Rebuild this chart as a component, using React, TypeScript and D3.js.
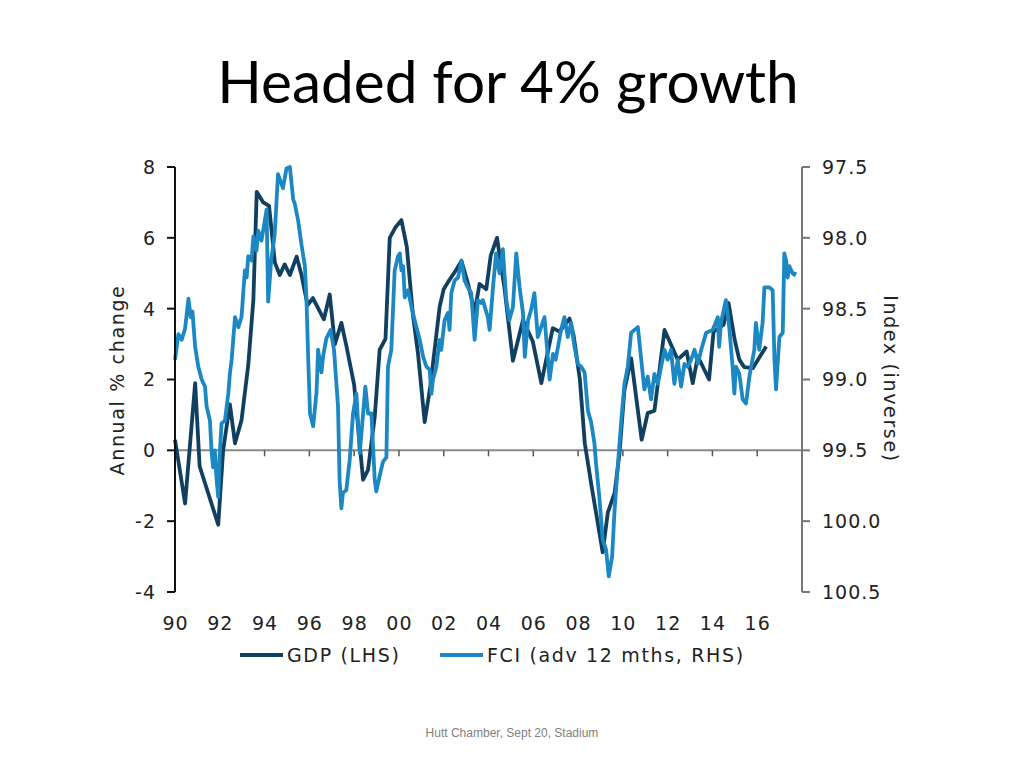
import React from "react";
import * as d3 from "d3";

const title = "Headed for 4% growth";
const footer = "Hutt Chamber, Sept 20, Stadium";
const leftTicks = [-4, -2, 0, 2, 4, 6, 8];
const rightTicks = [97.5, 98.0, 98.5, 99.0, 99.5, 100.0, 100.5];
const xTickYears = [1990, 1992, 1994, 1996, 1998, 2000, 2002, 2004, 2006, 2008, 2010, 2012, 2014, 2016];
const seriesNames = ["GDP (LHS)", "FCI (adv 12 mths, RHS)"];

// GDP annual % change (decimal year, value)
const gdp: [number, number][] = [
  [1990.0, 0.3], [1990.45, -1.5], [1990.9, 1.9], [1991.1, -0.45], [1991.93, -2.1],
  [1992.15, 0.0], [1992.45, 1.3], [1992.68, 0.2], [1992.97, 0.85], [1993.27, 2.4],
  [1993.5, 4.25], [1993.65, 7.3], [1993.94, 7.0], [1994.2, 6.9], [1994.46, 5.3],
  [1994.68, 4.95], [1994.9, 5.25], [1995.13, 4.95], [1995.43, 5.47], [1995.65, 4.95],
  [1995.92, 4.1], [1996.16, 4.3], [1996.4, 4.0], [1996.65, 3.7], [1996.91, 4.4],
  [1997.14, 3.0], [1997.43, 3.6], [1997.66, 2.93], [1998.0, 1.85], [1998.2, 0.5],
  [1998.4, -0.83], [1998.62, -0.55], [1998.92, 0.95], [1999.14, 2.84], [1999.4, 3.15],
  [1999.59, 6.0], [1999.85, 6.3], [2000.11, 6.5], [2000.35, 5.75], [2000.63, 3.8],
  [2000.85, 2.74], [2001.15, 0.8], [2001.4, 1.8], [2001.82, 4.06], [2002.0, 4.55],
  [2002.19, 4.75], [2002.56, 5.1], [2002.79, 5.35], [2003.08, 4.72], [2003.38, 3.9],
  [2003.6, 4.7], [2003.9, 4.55], [2004.1, 5.5], [2004.38, 6.0], [2004.72, 4.55],
  [2005.09, 2.53], [2005.54, 3.68], [2005.98, 3.07], [2006.36, 1.9], [2006.87, 3.45],
  [2007.17, 3.35], [2007.62, 3.72], [2007.8, 3.25], [2008.08, 2.0], [2008.3, 0.2],
  [2008.6, -1.0], [2009.1, -2.88], [2009.33, -1.75], [2009.63, -1.21], [2009.85, -0.08],
  [2010.07, 1.7], [2010.37, 2.6], [2010.84, 0.3], [2011.11, 1.05], [2011.41, 1.12],
  [2011.86, 3.4], [2012.45, 2.56], [2012.85, 2.79], [2013.12, 1.9], [2013.35, 2.65],
  [2013.85, 2.0], [2014.05, 3.35], [2014.5, 3.55], [2014.72, 4.16], [2015.0, 3.1],
  [2015.2, 2.56], [2015.42, 2.35], [2015.8, 2.32], [2016.17, 2.7], [2016.4, 2.93],
];

// FCI index (inverse scale), advanced 12 months (decimal year, index)
const fci: [number, number][] = [
  [1990.0, 98.86], [1990.15, 98.68], [1990.3, 98.72], [1990.45, 98.64], [1990.6, 98.43],
  [1990.7, 98.56], [1990.78, 98.52], [1990.9, 98.77], [1991.04, 98.91], [1991.19, 99.0],
  [1991.34, 99.05], [1991.41, 99.19], [1991.56, 99.29], [1991.63, 99.5], [1991.7, 99.62],
  [1991.78, 99.5], [1991.85, 99.69], [1991.93, 99.83], [1992.0, 99.52], [1992.08, 99.31],
  [1992.23, 99.29], [1992.38, 99.1], [1992.45, 98.96], [1992.53, 98.86], [1992.68, 98.56],
  [1992.83, 98.63], [1992.97, 98.56], [1993.12, 98.23], [1993.2, 98.28], [1993.27, 98.13],
  [1993.42, 98.16], [1993.5, 97.99], [1993.64, 98.09], [1993.72, 97.95], [1993.86, 98.02],
  [1994.01, 97.88], [1994.09, 97.8], [1994.16, 98.45], [1994.3, 98.15], [1994.45, 97.98],
  [1994.6, 97.55], [1994.82, 97.65], [1994.98, 97.51], [1995.13, 97.5], [1995.28, 97.73],
  [1995.35, 97.76], [1995.5, 97.88], [1995.65, 98.05], [1995.8, 98.2], [1995.87, 98.43],
  [1995.95, 98.86], [1996.03, 99.24], [1996.17, 99.33], [1996.32, 99.09], [1996.39, 98.79],
  [1996.54, 98.95], [1996.62, 98.83], [1996.76, 98.71], [1996.95, 98.65], [1997.1, 98.79],
  [1997.28, 99.19], [1997.35, 99.71], [1997.43, 99.91], [1997.5, 99.8], [1997.65, 99.78],
  [1997.8, 99.57], [1997.95, 99.24], [1998.1, 99.1], [1998.25, 99.52], [1998.4, 99.24],
  [1998.5, 99.05], [1998.62, 99.24], [1998.77, 99.24], [1998.92, 99.71], [1998.99, 99.79],
  [1999.14, 99.68], [1999.29, 99.58], [1999.44, 99.55], [1999.51, 98.91], [1999.66, 98.79],
  [1999.81, 98.23], [1999.96, 98.13], [2000.04, 98.11], [2000.11, 98.23], [2000.19, 98.2],
  [2000.26, 98.42], [2000.41, 98.37], [2000.56, 98.49], [2000.7, 98.58], [2000.78, 98.63],
  [2000.93, 98.72], [2001.08, 98.84], [2001.23, 98.91], [2001.37, 98.93], [2001.45, 99.1],
  [2001.52, 99.0], [2001.67, 98.91], [2001.82, 98.72], [2001.89, 98.79], [2002.04, 98.58],
  [2002.19, 98.53], [2002.26, 98.65], [2002.34, 98.39], [2002.49, 98.3], [2002.64, 98.28],
  [2002.79, 98.16], [2002.93, 98.3], [2003.08, 98.35], [2003.23, 98.39], [2003.38, 98.72],
  [2003.53, 98.44], [2003.68, 98.46], [2003.75, 98.44], [2003.97, 98.56], [2004.05, 98.65],
  [2004.2, 98.35], [2004.34, 98.11], [2004.49, 98.25], [2004.64, 98.08], [2004.79, 98.43],
  [2004.93, 98.58], [2005.09, 98.49], [2005.24, 98.11], [2005.39, 98.35], [2005.54, 98.53],
  [2005.62, 98.84], [2005.77, 98.58], [2005.9, 98.51], [2006.05, 98.39], [2006.2, 98.7],
  [2006.35, 98.63], [2006.5, 98.56], [2006.73, 99.0], [2006.88, 98.82], [2007.0, 98.86],
  [2007.24, 98.65], [2007.39, 98.56], [2007.54, 98.7], [2007.69, 98.6], [2007.84, 98.77],
  [2007.99, 98.89], [2008.14, 98.91], [2008.29, 98.95], [2008.44, 99.22], [2008.58, 99.3],
  [2008.73, 99.45], [2008.8, 99.59], [2008.95, 99.83], [2009.1, 100.13], [2009.25, 100.2],
  [2009.37, 100.39], [2009.52, 100.25], [2009.63, 99.92], [2009.77, 99.62], [2009.92, 99.31],
  [2010.07, 99.03], [2010.22, 98.91], [2010.37, 98.67], [2010.52, 98.65], [2010.67, 98.63],
  [2010.82, 98.86], [2010.96, 99.07], [2011.11, 98.98], [2011.26, 99.14], [2011.41, 98.96],
  [2011.56, 99.03], [2011.71, 98.91], [2011.86, 98.79], [2012.0, 98.86], [2012.15, 98.79],
  [2012.3, 99.03], [2012.45, 98.86], [2012.6, 99.05], [2012.75, 98.89], [2012.9, 98.91],
  [2013.05, 98.86], [2013.2, 98.79], [2013.35, 98.89], [2013.5, 98.79], [2013.72, 98.67],
  [2014.01, 98.65], [2014.24, 98.56], [2014.3, 98.77], [2014.38, 98.6], [2014.6, 98.44],
  [2014.75, 98.63], [2014.9, 98.91], [2014.98, 99.1], [2015.05, 98.91], [2015.2, 98.96],
  [2015.35, 99.14], [2015.5, 99.17], [2015.65, 98.98], [2015.87, 98.79], [2015.94, 98.6],
  [2016.09, 98.79], [2016.24, 98.6], [2016.32, 98.35], [2016.54, 98.35], [2016.69, 98.37],
  [2016.77, 98.86], [2016.84, 99.07], [2016.99, 98.7], [2017.14, 98.67], [2017.21, 98.11],
  [2017.29, 98.16], [2017.36, 98.28], [2017.43, 98.2], [2017.58, 98.25], [2017.65, 98.26],
  [2017.7, 98.24],
];

const GDP_COLOR = "#103f5f";
const FCI_COLOR = "#1b88c4";
const FONT = "DejaVu Sans, Verdana, sans-serif";
const TEXT_LS = 1.65;
const NUM_LS = 1.0;

export default function App() {
  const left = 175, right = 802, top = 167, bottom = 592;
  const x = d3.scaleLinear().domain([1990, 2018]).range([left, right]);
  const yL = d3.scaleLinear().domain([-4, 8]).range([bottom, top]);
  const yR = d3.scaleLinear().domain([100.5, 97.5]).range([bottom, top]);

  const gdpLine = d3.line<[number, number]>().x(d => x(d[0])).y(d => yL(d[1]));
  const fciLine = d3.line<[number, number]>().x(d => x(d[0])).y(d => yR(d[1]));

  const y0 = yL(0);

  return (
    <div style={{ position: "absolute", left: 0, top: 0 }}>
      <svg width={1024} height={768} style={{ display: "block", background: "#fff" }}>
        <text x={508} y={103} textAnchor="middle" fontFamily="Lato, Carlito, sans-serif" fontSize={58.5} fill="#000">
          {title}
        </text>

        {/* zero line */}
        <line x1={left} x2={right} y1={y0} y2={y0} stroke="#8a8a8a" strokeWidth={2} />
        {xTickYears.map(t => (
          <line key={t} x1={x(t)} x2={x(t)} y1={y0} y2={y0 + 6} stroke="#555" strokeWidth={1.5} />
        ))}

        {/* lines */}
        <path d={gdpLine(gdp) || ""} fill="none" stroke={GDP_COLOR} strokeWidth={3.8} strokeLinejoin="round" />
        <path d={fciLine(fci) || ""} fill="none" stroke={FCI_COLOR} strokeWidth={3.8} strokeLinejoin="round" />

        {/* left axis */}
        <line x1={left} x2={left} y1={top} y2={bottom} stroke="#111" strokeWidth={2} />
        {leftTicks.map(t => (
          <g key={t}>
            <line x1={left - 8} x2={left} y1={yL(t)} y2={yL(t)} stroke="#111" strokeWidth={2} />
            <text x={left - 19} y={yL(t)} dy="0.36em" textAnchor="end" fontFamily={FONT} fontSize={19} letterSpacing={NUM_LS} fill="#222">
              {t}
            </text>
          </g>
        ))}

        {/* right axis */}
        <line x1={right} x2={right} y1={top} y2={bottom} stroke="#777" strokeWidth={2} />
        {rightTicks.map(t => (
          <g key={t}>
            <line x1={right} x2={right + 8} y1={yR(t)} y2={yR(t)} stroke="#777" strokeWidth={2} />
            <text x={822} y={yR(t)} dy="0.36em" textAnchor="start" fontFamily={FONT} fontSize={19} letterSpacing={NUM_LS} fill="#222">
              {t.toFixed(1)}
            </text>
          </g>
        ))}

        {/* x labels */}
        {xTickYears.map(t => (
          <text key={t} x={x(t) + NUM_LS / 2} y={630} textAnchor="middle" fontFamily={FONT} fontSize={19} letterSpacing={NUM_LS} fill="#222">
            {String(t % 100).padStart(2, "0")}
          </text>
        ))}

        {/* axis titles */}
        <text transform="translate(124,380) rotate(-90)" textAnchor="middle" fontFamily={FONT} fontSize={19} letterSpacing={TEXT_LS} fill="#222">
          Annual % change
        </text>
        <text transform="translate(884,379) rotate(90)" textAnchor="middle" fontFamily={FONT} fontSize={19} letterSpacing={TEXT_LS} fill="#222">
          Index (inverse)
        </text>

        {/* legend */}
        <line x1={240} x2={283} y1={655} y2={655} stroke={GDP_COLOR} strokeWidth={4} />
        <text x={287} y={662} fontFamily={FONT} fontSize={19} letterSpacing={TEXT_LS} fill="#222">{seriesNames[0]}</text>
        <line x1={440} x2={483} y1={655} y2={655} stroke={FCI_COLOR} strokeWidth={4} />
        <text x={487} y={662} fontFamily={FONT} fontSize={19} letterSpacing={TEXT_LS} fill="#222">{seriesNames[1]}</text>

        <text x={512} y={737} textAnchor="middle" fontFamily="Liberation Sans, Arial, sans-serif" fontSize={12} fill="#7f7f7f">
          {footer}
        </text>
      </svg>
    </div>
  );
}
